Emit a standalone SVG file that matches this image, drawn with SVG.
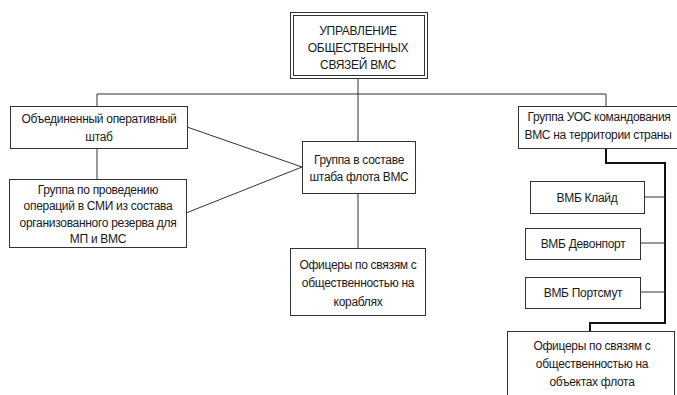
<svg xmlns="http://www.w3.org/2000/svg" width="677" height="395" viewBox="0 0 677 395">
<style>
.box{fill:#fff;stroke:#333;stroke-width:1}
.t{font-family:"Liberation Sans",Arial,sans-serif;font-size:12px;letter-spacing:-0.3px;fill:#1a1a1a;text-anchor:middle}
.ln{fill:none;stroke:#333;stroke-width:1}
.bus{fill:none;stroke:#111;stroke-width:2}
</style>
<rect width="677" height="395" fill="#fff"/>
<g id="connectors">
<polyline class="ln" points="97,106 97,94 606,94 606,106"/>
<line class="ln" x1="358" y1="78" x2="358" y2="141"/>
<line class="ln" x1="97" y1="148" x2="97" y2="179"/>
<line class="ln" x1="187" y1="127" x2="302" y2="167"/>
<line class="ln" x1="186" y1="213" x2="302" y2="167"/>
<line class="ln" x1="358" y1="193" x2="358" y2="248"/>
<polyline class="bus" points="606,148 606,163 665,163 665,323 590,323 590,331"/>
<line class="ln" x1="644" y1="197" x2="665" y2="197"/>
<line class="ln" x1="640" y1="243" x2="665" y2="243"/>
<line class="ln" x1="640" y1="292" x2="665" y2="292"/>
</g>
<g id="n-upravlenie">
<rect class="box" x="290.5" y="12.5" width="137" height="66"/>
<rect class="box" x="293.5" y="15.5" width="131" height="60"/>
<text class="t" x="358" y="35">УПРАВЛЕНИЕ</text>
<text class="t" x="358" y="52">ОБЩЕСТВЕННЫХ</text>
<text class="t" x="358" y="69">СВЯЗЕЙ ВМС</text>
</g>
<g id="n-shtab">
<rect class="box" x="10.5" y="106.5" width="177" height="42"/>
<text class="t" x="99" y="123">Объединенный оперативный</text>
<text class="t" x="99" y="141">штаб</text>
</g>
<g id="n-gruppa-smi">
<rect class="box" x="9.5" y="179.5" width="177" height="68"/>
<text class="t" x="98" y="194">Группа по проведению</text>
<text class="t" x="98" y="210">операций в СМИ из состава</text>
<text class="t" x="98" y="227">организованного резерва для</text>
<text class="t" x="98" y="243">МП и ВМС</text>
</g>
<g id="n-gruppa-shtaba">
<rect class="box" x="302.5" y="141.5" width="113" height="52"/>
<text class="t" x="359" y="164">Группа в составе</text>
<text class="t" x="359" y="181">штаба флота ВМС</text>
</g>
<g id="n-oficery-korabli">
<rect class="box" x="290.5" y="248.5" width="135" height="67"/>
<text class="t" x="358" y="269">Офицеры по связям с</text>
<text class="t" x="358" y="287">общественностью на</text>
<text class="t" x="358" y="306">кораблях</text>
</g>
<g id="n-gruppa-uos">
<rect class="box" x="518.5" y="106.5" width="164" height="42"/>
<text class="t" x="599" y="121">Группа УОС командования</text>
<text class="t" x="598" y="139">ВМС на территории страны</text>
</g>
<g id="n-klaid">
<rect class="box" x="530.5" y="181.5" width="114" height="32"/>
<text class="t" x="587" y="202">ВМБ Клайд</text>
</g>
<g id="n-devonport">
<rect class="box" x="525.5" y="228.5" width="115" height="31"/>
<text class="t" x="583" y="248">ВМБ Девонпорт</text>
</g>
<g id="n-portsmut">
<rect class="box" x="525.5" y="277.5" width="115" height="31"/>
<text class="t" x="583" y="297">ВМБ Портсмут</text>
</g>
<g id="n-oficery-obekty">
<rect class="box" x="507.5" y="331.5" width="167" height="70"/>
<text class="t" x="592" y="350">Офицеры по связям с</text>
<text class="t" x="592" y="368">общественностью на</text>
<text class="t" x="592" y="386">объектах флота</text>
</g>
</svg>
